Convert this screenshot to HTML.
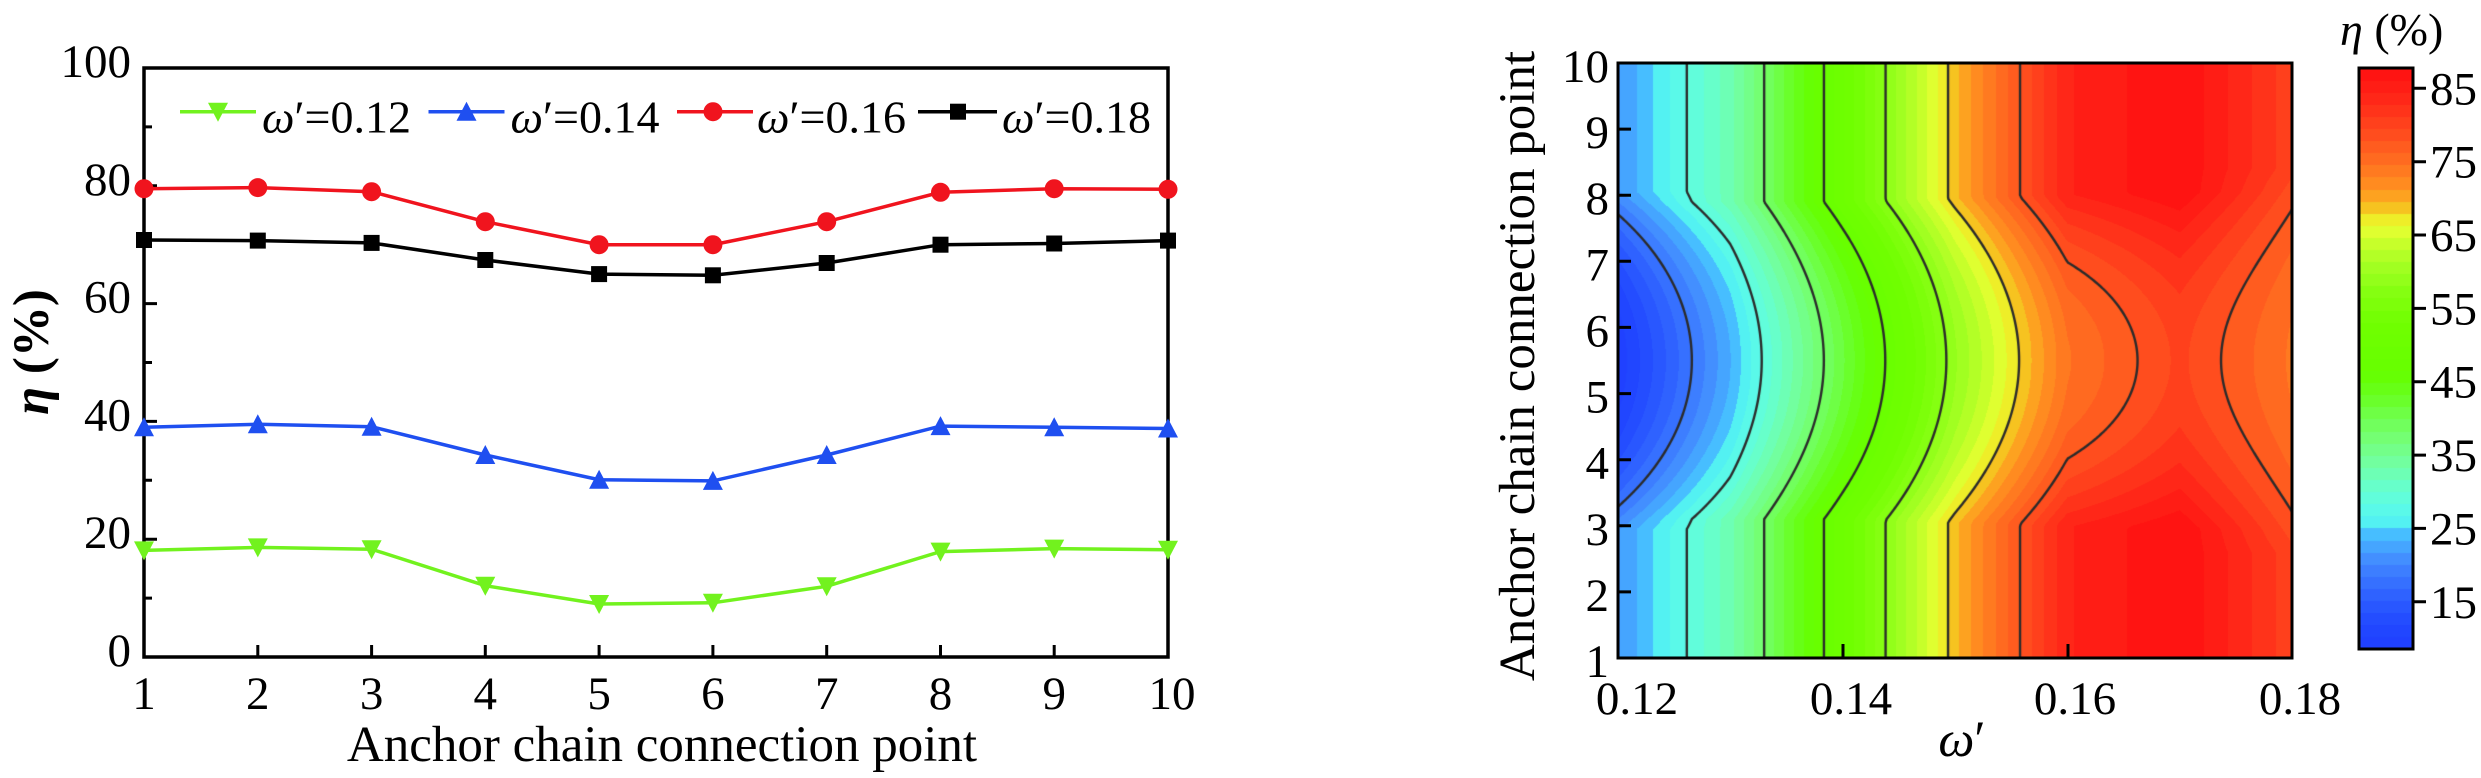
<!DOCTYPE html>
<html>
<head>
<meta charset="utf-8">
<style>
  html,body{margin:0;padding:0;background:#fff;}
  body{width:2481px;height:778px;position:relative;overflow:hidden;}
  canvas{position:absolute;}
  svg{position:absolute;left:0;top:0;z-index:2;}
  text{font-family:"Liberation Serif","DejaVu Serif",serif;fill:#000;}
</style>
</head>
<body>
<canvas id="cf" width="674" height="595" style="left:1618px;top:63px;z-index:1"></canvas>
<canvas id="cb" width="54" height="581" style="left:2359px;top:68px;z-index:1"></canvas>

<svg width="2481" height="778" viewBox="0 0 2481 778" xmlns="http://www.w3.org/2000/svg">
  <!-- ================= LEFT PLOT ================= -->
  <rect x="144" y="68" width="1024" height="589" fill="none" stroke="#000" stroke-width="3.5"/>
  <path d="M257.8 657V645M371.6 657V645M485.3 657V645M599.1 657V645M712.9 657V645M826.7 657V645M940.5 657V645M1054.2 657V645" stroke="#000" stroke-width="3"/>
  <path d="M144 539.2H157M144 421.4H157M144 303.6H157M144 185.8H157" stroke="#000" stroke-width="3"/>
  <path d="M144 598.1H152M144 480.3H152M144 362.5H152M144 244.7H152M144 126.9H152" stroke="#000" stroke-width="3"/>

  <g font-size="47" text-anchor="end">
    <text x="131" y="77">100</text>
    <text x="131" y="194.8">80</text>
    <text x="131" y="312.6">60</text>
    <text x="131" y="430.4">40</text>
    <text x="131" y="548.2">20</text>
    <text x="131" y="666">0</text>
  </g>
  <g font-size="47" text-anchor="middle">
    <text x="144" y="709">1</text>
    <text x="257.8" y="709">2</text>
    <text x="371.6" y="709">3</text>
    <text x="485.3" y="709">4</text>
    <text x="599.1" y="709">5</text>
    <text x="712.9" y="709">6</text>
    <text x="826.7" y="709">7</text>
    <text x="940.5" y="709">8</text>
    <text x="1054.2" y="709">9</text>
    <text x="1172" y="709">10</text>
  </g>
  <text x="662" y="761" font-size="51" text-anchor="middle">Anchor chain connection point</text>
  <text transform="translate(48,352) rotate(-90)" font-size="51" font-weight="bold" text-anchor="middle"><tspan font-style="italic">η</tspan> (%)</text>

  <polyline fill="none" stroke="#f0141e" stroke-width="3.5" points="144,188.7 257.8,187.6 371.6,191.7 485.3,221.7 599.1,244.7 712.9,244.7 826.7,221.7 940.5,192.3 1054.2,188.7 1168,189.3"/>
  <polyline fill="none" stroke="#000" stroke-width="3.5" points="144,240.0 257.8,240.6 371.6,242.9 485.3,260.0 599.1,274.1 712.9,275.3 826.7,263.0 940.5,244.7 1054.2,243.5 1168,240.6"/>
  <polyline fill="none" stroke="#1f4ff0" stroke-width="3.5" points="144,427.3 257.8,424.3 371.6,426.7 485.3,455.0 599.1,479.7 712.9,480.9 826.7,455.0 940.5,426.1 1054.2,427.3 1168,428.5"/>
  <polyline fill="none" stroke="#72f21e" stroke-width="3.5" points="144,550.4 257.8,547.4 371.6,549.2 485.3,585.7 599.1,604.0 712.9,602.8 826.7,586.3 940.5,551.6 1054.2,548.6 1168,549.8"/>

  <g fill="#f0141e">
    <circle cx="144" cy="188.7" r="9.5"/><circle cx="257.8" cy="187.6" r="9.5"/><circle cx="371.6" cy="191.7" r="9.5"/>
    <circle cx="485.3" cy="221.7" r="9.5"/><circle cx="599.1" cy="244.7" r="9.5"/><circle cx="712.9" cy="244.7" r="9.5"/>
    <circle cx="826.7" cy="221.7" r="9.5"/><circle cx="940.5" cy="192.3" r="9.5"/><circle cx="1054.2" cy="188.7" r="9.5"/>
    <circle cx="1168" cy="189.3" r="9.5"/>
  </g>
  <g fill="#000">
    <rect x="136" y="232" width="16" height="16"/><rect x="249.8" y="232.6" width="16" height="16"/><rect x="363.6" y="234.9" width="16" height="16"/>
    <rect x="477.3" y="252" width="16" height="16"/><rect x="591.1" y="266.1" width="16" height="16"/><rect x="704.9" y="267.3" width="16" height="16"/>
    <rect x="818.7" y="255" width="16" height="16"/><rect x="932.5" y="236.7" width="16" height="16"/><rect x="1046.2" y="235.5" width="16" height="16"/>
    <rect x="1160" y="232.6" width="16" height="16"/>
  </g>
  <g fill="#1f4ff0">
    <path d="M134 436.3H154L144 417.3Z"/><path d="M247.8 433.3H267.8L257.8 414.3Z"/><path d="M361.6 435.7H381.6L371.6 416.7Z"/>
    <path d="M475.3 464H495.3L485.3 445Z"/><path d="M589.1 488.7H609.1L599.1 469.7Z"/><path d="M702.9 489.9H722.9L712.9 470.9Z"/>
    <path d="M816.7 464H836.7L826.7 445Z"/><path d="M930.5 435.1H950.5L940.5 416.1Z"/><path d="M1044.2 436.3H1064.2L1054.2 417.3Z"/>
    <path d="M1158 437.5H1178L1168 418.5Z"/>
  </g>
  <g fill="#72f21e">
    <path d="M134 541.4H154L144 560.4Z"/><path d="M247.8 538.4H267.8L257.8 557.4Z"/><path d="M361.6 540.2H381.6L371.6 559.2Z"/>
    <path d="M475.3 576.7H495.3L485.3 595.7Z"/><path d="M589.1 595H609.1L599.1 614Z"/><path d="M702.9 593.8H722.9L712.9 612.8Z"/>
    <path d="M816.7 577.3H836.7L826.7 596.3Z"/><path d="M930.5 542.6H950.5L940.5 561.6Z"/><path d="M1044.2 539.6H1064.2L1054.2 558.6Z"/>
    <path d="M1158 540.8H1178L1168 559.8Z"/>
  </g>

  <g font-size="46">
    <path d="M180 111.7H256" stroke="#72f21e" stroke-width="3.5"/>
    <path d="M208 102.7H228L218 121.7Z" fill="#72f21e"/>
    <text x="262" y="132.7"><tspan font-style="italic">ω</tspan>&#8242;=0.12</text>

    <path d="M428.5 111.7H504.5" stroke="#1f4ff0" stroke-width="3.5"/>
    <path d="M456.5 120.7H476.5L466.5 101.7Z" fill="#1f4ff0"/>
    <text x="510.5" y="132.7"><tspan font-style="italic">ω</tspan>&#8242;=0.14</text>

    <path d="M677 111.7H753" stroke="#f0141e" stroke-width="3.5"/>
    <circle cx="713" cy="111.7" r="9.5" fill="#f0141e"/>
    <text x="757" y="132.7"><tspan font-style="italic">ω</tspan>&#8242;=0.16</text>

    <path d="M918 111.7H997" stroke="#000" stroke-width="3.5"/>
    <rect x="950" y="103.7" width="16" height="16" fill="#000"/>
    <text x="1002" y="132.7"><tspan font-style="italic">ω</tspan>&#8242;=0.18</text>
  </g>

  <!-- ================= RIGHT PLOT ================= -->
  <rect x="1618" y="63" width="674" height="595" fill="none" stroke="#000" stroke-width="3"/>
  <path d="M1618 129.1H1631M1618 195.2H1631M1618 261.3H1631M1618 327.4H1631M1618 393.6H1631M1618 459.7H1631M1618 525.8H1631M1618 591.9H1631" stroke="#000" stroke-width="3"/>
  <path d="M1843 658V644M2068 658V644" stroke="#000" stroke-width="3"/>
  <g font-size="47" text-anchor="end">
    <text x="1609" y="82">10</text>
    <text x="1609" y="148.1">9</text>
    <text x="1609" y="214.2">8</text>
    <text x="1609" y="280.3">7</text>
    <text x="1609" y="346.4">6</text>
    <text x="1609" y="412.6">5</text>
    <text x="1609" y="478.7">4</text>
    <text x="1609" y="544.8">3</text>
    <text x="1609" y="610.9">2</text>
    <text x="1609" y="677">1</text>
  </g>
  <g font-size="47" text-anchor="middle">
    <text x="1637" y="714">0.12</text>
    <text x="1851" y="714">0.14</text>
    <text x="2075" y="714">0.16</text>
    <text x="2300" y="714">0.18</text>
  </g>
  <text x="1962" y="756" font-size="51" text-anchor="middle"><tspan font-style="italic">ω</tspan>&#8242;</text>
  <text transform="translate(1534,366) rotate(-90)" font-size="51" text-anchor="middle">Anchor chain connection point</text>

  <rect x="2359" y="68" width="54" height="581" fill="none" stroke="#000" stroke-width="3"/>
  <path d="M2413 88.3H2426M2413 161.7H2426M2413 235H2426M2413 308.4H2426M2413 381.7H2426M2413 455.1H2426M2413 528.4H2426M2413 601.8H2426" stroke="#000" stroke-width="3"/>
  <g font-size="47">
    <text x="2430" y="104.3">85</text>
    <text x="2430" y="177.7">75</text>
    <text x="2430" y="251">65</text>
    <text x="2430" y="324.4">55</text>
    <text x="2430" y="397.7">45</text>
    <text x="2430" y="471.1">35</text>
    <text x="2430" y="544.4">25</text>
    <text x="2430" y="617.8">15</text>
  </g>
  <text x="2340" y="45" font-size="46"><tspan font-style="italic">η</tspan> (%)</text>
</svg>

<script>
(function(){
  var E=[21.5,32.6,51.2,69,84.2,87.7,80];
  var M=[9,23.3,41.2,59.4,74.3,79.9,74.2];
  var Wd=[2.55,2.4,2.4,2.45,2.5,2.55,2.9];
  function colval(i,r){
    var d=Math.abs(r-5.5),t=Math.min(1,d/Wd[i]);
    var mm=1-t*t;
    return E[i]-mm*(E[i]-M[i]);
  }
  function f(u,r){
    var i=Math.min(5,Math.max(0,Math.floor(u))),fu=u-i;
    var a=colval(i,r),b=colval(i+1,r);
    return a+(b-a)*fu;
  }
  var stops=[
    [8.5,'#1f3fff'],[12,'#2249ff'],[16,'#2f62ff'],[19,'#3c7cff'],[21.5,'#4595ff'],
    [23.5,'#45b4ff'],[24.8,'#48c8ff'],[25.2,'#50eef5'],[28,'#5cfce6'],[31,'#68ffc8'],
    [34,'#72ffa0'],[37,'#74ff78'],[40,'#70ff50'],[43,'#68ff20'],[46,'#66ff00'],
    [53,'#70ff00'],[57,'#84ff10'],[60,'#9cff20'],[63,'#bcff28'],[65.5,'#e0ff30'],
    [67,'#eef028'],[68.5,'#f5c820'],[70,'#fca820'],[71.5,'#ff9020'],[73.5,'#ff7c20'],
    [76,'#ff6420'],[79,'#ff4a1e'],[82,'#ff321a'],[85,'#ff1e16'],[87.7,'#ff1010']];
  function hx(h){return [parseInt(h.substr(1,2),16),parseInt(h.substr(3,2),16),parseInt(h.substr(5,2),16)];}
  stops=stops.map(function(s){return [s[0],hx(s[1])];});
  function cmap(v){
    if(v<=stops[0][0])return stops[0][1];
    for(var k=1;k<stops.length;k++){
      if(v<=stops[k][0]){
        var a=stops[k-1],b=stops[k],t=(v-a[0])/(b[0]-a[0]);
        return [0,1,2].map(function(c){return Math.round(a[1][c]+(b[1][c]-a[1][c])*t);});
      }
    }
    return stops[stops.length-1][1];
  }
  var vmin=8.5,vmax=87.7,NB=48,step=(vmax-vmin)/NB;
  var bandCol=[];
  for(var k=0;k<NB;k++){bandCol[k]=cmap(vmin+(k+0.5)*step);}
  function band(v){var k=Math.floor((v-vmin)/step);if(k<0)k=0;if(k>=NB)k=NB-1;return bandCol[k];}

  var cv=document.getElementById('cf'),ctx=cv.getContext('2d');
  var W=cv.width,H=cv.height;
  var img=ctx.createImageData(W,H),d=img.data;
  for(var y=0;y<H;y++){
    var r=10-(y+0.5)/H*9;
    for(var x=0;x<W;x++){
      var u=(x+0.5)/W*6;
      var c=band(f(u,r));
      var p=(y*W+x)*4;
      d[p]=c[0];d[p+1]=c[1];d[p+2]=c[2];d[p+3]=255;
    }
  }
  ctx.putImageData(img,0,0);

  var s=2,nx=Math.ceil(W/s),ny=Math.ceil(H/s);
  var G=[];
  for(var ix=0;ix<=nx;ix++){
    G[ix]=[];
    for(var iy=0;iy<=ny;iy++){
      G[ix][iy]=f(Math.min(W,ix*s)/W*6,10-Math.min(H,iy*s)/H*9);
    }
  }
  ctx.strokeStyle='#2b2b2b';ctx.lineWidth=2.4;ctx.lineCap='round';ctx.lineJoin='round';
  var levels=[];
  for(var q=1;q<=7;q++){levels.push(vmin+q*9.9);}
  levels.forEach(function(L){
    ctx.beginPath();
    for(var ix=0;ix<nx;ix++){
      for(var iy=0;iy<ny;iy++){
        var x0=ix*s,y0=iy*s,x1=Math.min(W,x0+s),y1=Math.min(H,y0+s);
        var a=G[ix][iy],b=G[ix+1][iy],c=G[ix+1][iy+1],e=G[ix][iy+1];
        var pts=[];
        if((a-L)*(b-L)<0){var t=(L-a)/(b-a);pts.push([x0+(x1-x0)*t,y0]);}
        if((b-L)*(c-L)<0){var t2=(L-b)/(c-b);pts.push([x1,y0+(y1-y0)*t2]);}
        if((e-L)*(c-L)<0){var t3=(L-e)/(c-e);pts.push([x0+(x1-x0)*t3,y1]);}
        if((a-L)*(e-L)<0){var t4=(L-a)/(e-a);pts.push([x0,y0+(y1-y0)*t4]);}
        if(pts.length>=2){ctx.moveTo(pts[0][0],pts[0][1]);ctx.lineTo(pts[1][0],pts[1][1]);}
        if(pts.length===4){ctx.moveTo(pts[2][0],pts[2][1]);ctx.lineTo(pts[3][0],pts[3][1]);}
      }
    }
    ctx.stroke();
  });

  var cb=document.getElementById('cb'),bx=cb.getContext('2d');
  for(var yy=0;yy<cb.height;yy++){
    var v=85-((68+yy+0.5)-88.3)/7.335;
    var col=band(v);
    bx.fillStyle='rgb('+col[0]+','+col[1]+','+col[2]+')';
    bx.fillRect(0,yy,cb.width,1);
  }
})();
</script>
</body>
</html>
